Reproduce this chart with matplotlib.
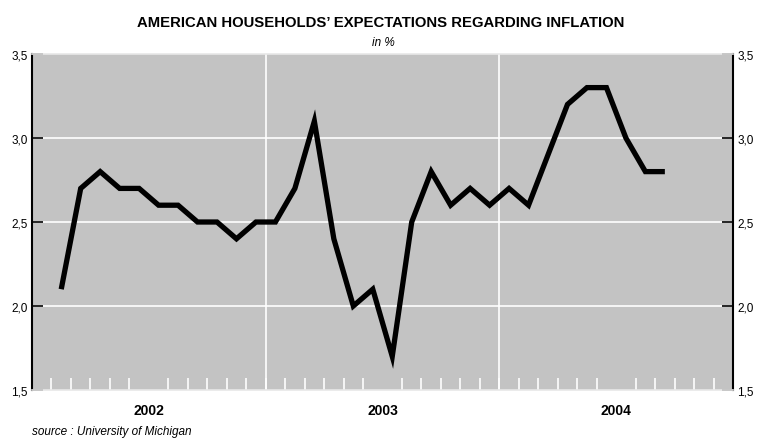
import matplotlib.pyplot as plt
import numpy as np

# monthly survey values, Feb 2002 .. Sep 2004
mois = ["2002-02", "2002-03", "2002-04", "2002-05", "2002-06", "2002-07", "2002-08",
        "2002-09", "2002-10", "2002-11", "2002-12",
        "2003-01", "2003-02", "2003-03", "2003-04", "2003-05", "2003-06", "2003-07",
        "2003-08", "2003-09", "2003-10", "2003-11", "2003-12",
        "2004-01", "2004-02", "2004-03", "2004-04", "2004-05", "2004-06", "2004-07",
        "2004-08", "2004-09"]
valeurs = [2.1, 2.7, 2.8, 2.7, 2.7, 2.6, 2.6, 2.5, 2.5, 2.4, 2.5,
           2.5, 2.7, 3.1, 2.4, 2.0, 2.1, 1.7, 2.5, 2.8, 2.6, 2.7, 2.6,
           2.7, 2.6, 2.9, 3.2, 3.3, 3.3, 3.0, 2.8, 2.8]
annees = [2002, 2003, 2004]
yticks = [1.5, 2.0, 2.5, 3.0, 3.5]

plt.rcParams["font.family"] = ["Liberation Sans", "DejaVu Sans"]

# position in months since Jan 2002, points at mid-month
x = [(int(m[:4]) - annees[0]) * 12 + int(m[5:]) - 1 + 0.5 for m in mois]

fig = plt.figure(figsize=(7.57, 4.39), dpi=100)
ax = fig.add_axes([0.0423, 0.1093, 0.926, 0.7654])
ax.set_facecolor("#c3c3c3")

ax.set_xlim(0, 12 * len(annees))
ax.set_ylim(1.5, 3.5)

for yv in yticks[1:-1]:
    ax.axhline(yv, color="white", lw=1.2, zorder=1)
for i in range(1, len(annees)):
    ax.axvline(12 * i, color="white", lw=1.2, zorder=1)

ax.plot(x, valeurs, color="black", lw=3.8, solid_joinstyle="miter",
        solid_capstyle="butt", zorder=3)

# y axis both sides, black ticks inward
ax.set_yticks(yticks)
ax.set_yticklabels([f"{v:.1f}".replace(".", ",") for v in yticks], fontsize=8.5)
ax.tick_params(axis="y", direction="in", length=8, width=1.2, color="black",
               left=True, right=True, labelleft=True, labelright=True, pad=3)

# month ticks white inward, year labels centred
ax.set_xticks(np.arange(1, 12 * len(annees)), minor=True)
ax.set_xticks([6 + 12 * i for i in range(len(annees))])
ax.set_xticklabels([str(a) for a in annees], fontsize=10, fontweight="bold")
ax.tick_params(axis="x", which="major", length=0, pad=9)
ax.tick_params(axis="x", which="minor", direction="in", length=8.5, width=1.2,
               color="white")

for s in ["left", "right"]:
    ax.spines[s].set_color("black")
    ax.spines[s].set_linewidth(1.5)
for s in ["top", "bottom"]:
    ax.spines[s].set_color("#e8e8e8")
    ax.spines[s].set_linewidth(1.2)

fig.text(0.503, 0.948, "AMERICAN HOUSEHOLDS’ EXPECTATIONS REGARDING INFLATION",
         ha="center", va="center", fontsize=10.7, fontweight="bold")
fig.text(0.506, 0.903, "in %", ha="center", va="center", fontsize=8.5, style="italic")
fig.text(0.042, 0.016, "source : University of Michigan", ha="left", va="center",
         fontsize=8.5, style="italic")

fig.savefig("out.png", dpi=100)
